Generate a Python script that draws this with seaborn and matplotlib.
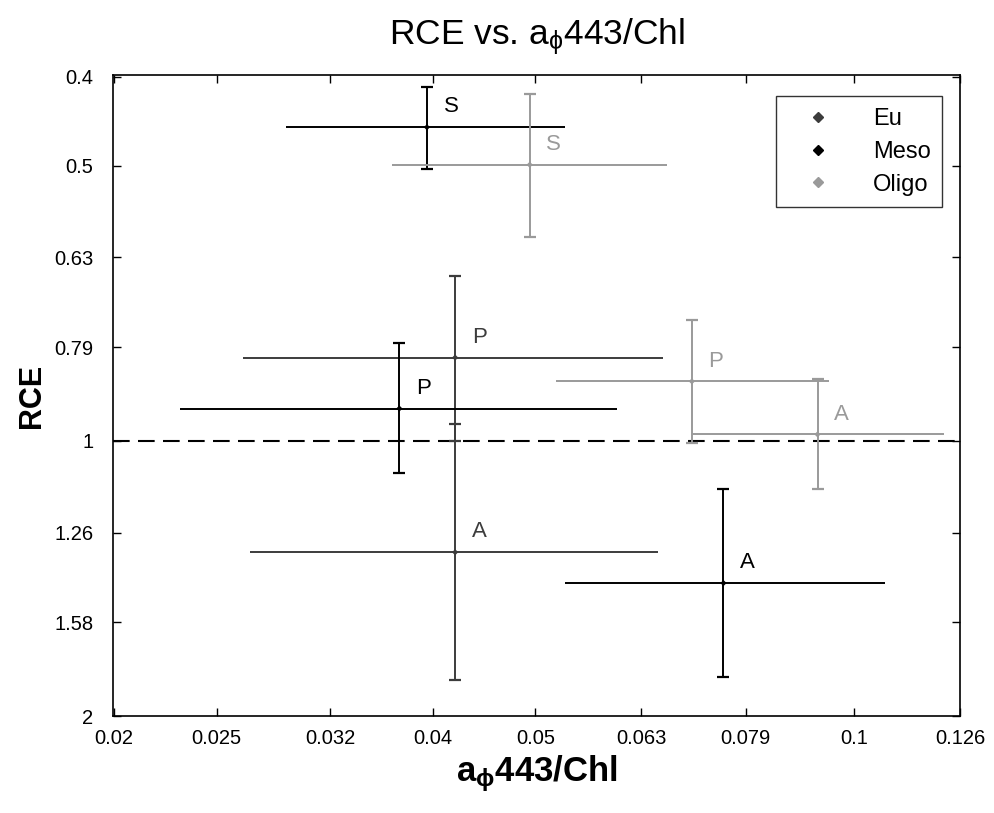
import numpy as np
import pandas as pd
import matplotlib
matplotlib.use("Agg")
import matplotlib.pyplot as plt
import seaborn as sns

# Trophic class of each sample group, with the season/type label drawn beside it
trophic = ["Meso", "Oligo", "Eu", "Meso", "Oligo", "Oligo", "Eu", "Meso"]
labels = ["S", "S", "P", "P", "P", "A", "A", "A"]

# a_phi(443)/Chl: centre and lower/upper bounds
x_mid = [0.0395, 0.0494, 0.0420, 0.0372, 0.0703, 0.0924, 0.0420, 0.0753]
x_lo = [0.0291, 0.0366, 0.0265, 0.0231, 0.0523, 0.0703, 0.0269, 0.0533]
x_hi = [0.0533, 0.0666, 0.0660, 0.0597, 0.0947, 0.1216, 0.0653, 0.1071]

# RCE: centre and lower/upper bounds
y_mid = [0.454, 0.499, 0.811, 0.922, 0.861, 0.984, 1.324, 1.431]
y_lo = [0.410, 0.418, 0.661, 0.781, 0.737, 0.855, 0.959, 1.130]
y_hi = [0.504, 0.598, 1.000, 1.085, 1.006, 1.130, 1.827, 1.812]

classes = ["Eu", "Meso", "Oligo"]
class_colors = {"Eu": "#3c3c3c", "Meso": "#000000", "Oligo": "#9a9a9a"}

x_ticks = [0.02, 0.025, 0.032, 0.04, 0.05, 0.063, 0.079, 0.1, 0.126]
y_ticks = [0.4, 0.5, 0.63, 0.79, 1, 1.26, 1.58, 2]

df = pd.DataFrame({
    "class": trophic, "label": labels,
    "x": x_mid, "xlo": x_lo, "xhi": x_hi,
    "y": y_mid, "ylo": y_lo, "yhi": y_hi,
})

sns.set_theme(style="ticks")
plt.rcParams["font.family"] = ["Liberation Sans", "DejaVu Sans"]
plt.rcParams["mathtext.fontset"] = "custom"
plt.rcParams["mathtext.rm"] = "Liberation Sans"
plt.rcParams["mathtext.it"] = "Liberation Sans"
plt.rcParams["mathtext.bf"] = "Liberation Sans:bold"
for key in ["text.color", "axes.labelcolor", "xtick.color", "ytick.color",
            "axes.edgecolor"]:
    plt.rcParams[key] = "black"

fig = plt.figure(figsize=(9.95, 8.13), dpi=100)
ax = fig.add_axes([0.1136, 0.1193, 0.8513, 0.7884])

ax.set_xscale("log")
ax.set_yscale("log")

# reference level RCE = 1
ax.axhline(1.0, color="black", lw=1.5, ls=(0, (8, 4)), zorder=1)

for _, r in df.iterrows():
    c = class_colors[r["class"]]
    ax.errorbar(r["x"], r["y"],
                xerr=[[r["x"] - r["xlo"]], [r["xhi"] - r["x"]]],
                fmt="none", ecolor=c, elinewidth=1.4, capsize=0, zorder=2)
    ax.errorbar(r["x"], r["y"],
                yerr=[[r["y"] - r["ylo"]], [r["yhi"] - r["y"]]],
                fmt="none", ecolor=c, elinewidth=1.4, capsize=4,
                capthick=1.6, zorder=2)
    ax.annotate(r["label"], (r["x"], r["y"]), xytext=(12, 7),
                textcoords="offset points", ha="left", va="bottom",
                fontsize=16, color=c)

sns.scatterplot(data=df, x="x", y="y", hue="class", hue_order=classes,
                palette=class_colors, marker="D", s=10, linewidth=0,
                ax=ax, zorder=3, legend=False)

ax.set_xlim(10 ** -1.7, 10 ** -0.9)
ax.set_ylim(10 ** 0.3, 10 ** -0.4)

ax.set_xticks(x_ticks)
ax.set_xticklabels([f"{v:g}" for v in x_ticks])
ax.set_yticks(y_ticks)
ax.set_yticklabels([f"{v:g}" for v in y_ticks])
ax.xaxis.set_minor_locator(matplotlib.ticker.NullLocator())
ax.yaxis.set_minor_locator(matplotlib.ticker.NullLocator())
ax.tick_params(axis="both", which="major", direction="in", length=6,
               width=1.0, labelsize=14.5, top=True, right=True,
               colors="black")
ax.tick_params(axis="x", pad=9)
ax.tick_params(axis="y", pad=14)

for s in ax.spines.values():
    s.set_color("black")
    s.set_linewidth(1.2)

ax.set_title(r"RCE vs. a$_{\phi}$443/Chl", fontsize=25.5, pad=22,
             color="black")
ax.set_xlabel(r"a$_{\mathbf{\phi}}$443/Chl", fontsize=25, fontweight="bold",
              labelpad=4)
ax.set_ylabel("RCE", fontsize=22, fontweight="bold", labelpad=5)

handles = [matplotlib.lines.Line2D([], [], ls="none", marker="D",
                                   markersize=5, color=class_colors[k])
           for k in classes]
leg = ax.legend(handles, classes, loc="upper right", fontsize=17,
                frameon=True, fancybox=False, edgecolor="black",
                labelspacing=0.45, handletextpad=1.0, borderpad=0.5,
                handlelength=2.6, bbox_to_anchor=(0.993, 0.985))
leg.get_frame().set_linewidth(1.0)

fig.savefig("out.png", dpi=100, facecolor="white")
